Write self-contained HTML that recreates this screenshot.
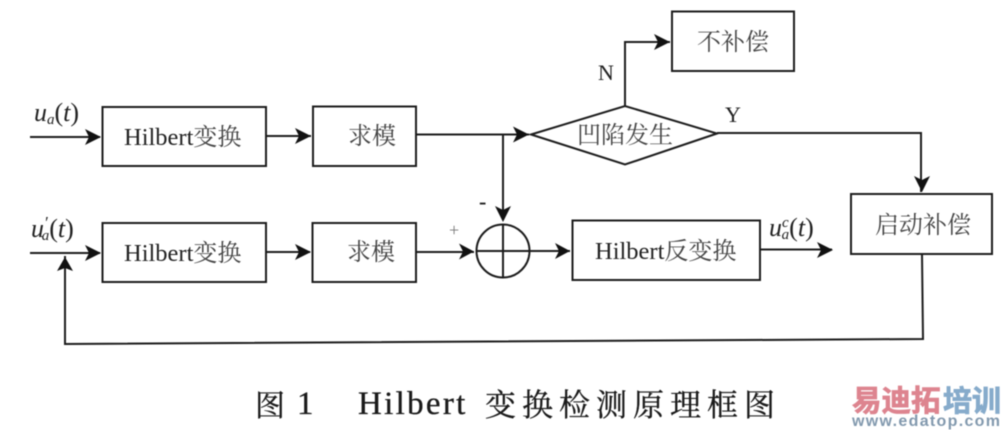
<!DOCTYPE html>
<html><head><meta charset="utf-8">
<style>
html,body{margin:0;padding:0;background:#fff;width:1006px;height:430px;overflow:hidden}
svg{display:block;filter:blur(.45px)}
text{font-family:"Liberation Serif","Noto Serif CJK SC",serif;fill:#222}
.cn{font-family:"Liberation Serif","Noto Serif CJK SC",serif;fill:#444;font-size:24px}
.i{font-style:italic}
.wm{font-family:"Liberation Sans","Noto Sans CJK SC",sans-serif;font-weight:bold;stroke-width:.8px}
.cap{fill:#1a1a1a;stroke:#1a1a1a;stroke-width:.3px}
</style></head><body>
<svg width="1006" height="430" viewBox="0 0 1006 430" xmlns="http://www.w3.org/2000/svg">
<g fill="none" stroke="#1c1c1c" stroke-width="2">
<rect x="102.500" y="107" width="163.500" height="59"/>
<rect x="313" y="106.500" width="103" height="59.500"/>
<rect x="102.500" y="223" width="163.500" height="59"/>
<rect x="312.500" y="223" width="103.500" height="59"/>
<rect x="672" y="11.500" width="122" height="59.500"/>
<rect x="572.500" y="220.500" width="187.500" height="59.500"/>
<rect x="851" y="194" width="141" height="60"/>
<polygon points="531,134.500 625,106 717,133.500 625,164.500"/>
<circle cx="503" cy="251" r="26.500"/>
<path d="M503 224.500V277.500M476.500 251H529.500"/>
<path d="M30 137H100M266 136H311M416 134.500H529M503 134.500V219"/>
<path d="M30 253H100M266 252H310M416 252H474M530 251H570M760 249.500H832"/>
<path d="M625 106V42H670M717 133H921V192"/>
<path d="M922 254L923 339L65 344V256"/>
</g>
<g fill="#111">
<path d="M101 137L85 129L89 137L85 145Z"/>
<path d="M101 253L85 245L89 253L85 261Z"/>
<path d="M311 136L295 128L299 136L295 144Z"/>
<path d="M311 252L295 244L299 252L295 260Z"/>
<path d="M529 134.500L513 126.500L517 134.500L513 142.500Z"/>
<path d="M474 251.500L459 243.500L463 251.500L459 259.500Z"/>
<path d="M570 251L555 243L559 251L555 259Z"/>
<path d="M670 42L654 34L658 42L654 50Z"/>
<path d="M833 250L817 242L821 250L817 258Z"/>
<path d="M503 222L495 206L503 210L511 206Z"/>
<path d="M922 192L914 176L922 180L930 176Z"/>
<path d="M65 257L57 271L65 268L73 271Z"/>
</g>
<text x="124" y="145" font-size="24.500">Hilbert<tspan class="cn">变换</tspan></text>
<text x="124" y="261" font-size="24.500">Hilbert<tspan class="cn">变换</tspan></text>
<text x="595" y="259" font-size="24.500">Hilbert<tspan class="cn">反变换</tspan></text>
<text x="348" y="144" class="cn">求模</text>
<text x="347" y="260" class="cn">求模</text>
<text x="697" y="50" class="cn">不补偿</text>
<text x="577" y="143" class="cn">凹陷发生</text>
<text x="875" y="233" class="cn">启动补偿</text>
<text x="598" y="80" font-size="22">N</text>
<text x="725" y="122" font-size="22">Y</text>
<text x="479" y="209" font-size="22" font-weight="bold">-</text>
<text x="449" y="236" font-size="18" style="fill:#777">+</text>
<text x="34" y="121" font-size="26" class="i">u<tspan font-size="15" dy="3">a</tspan><tspan dy="-3" font-style="normal">(</tspan>t<tspan font-style="normal">)</tspan></text>
<text x="31" y="237" font-size="26" class="i">u<tspan font-size="17" dy="-9">′</tspan><tspan font-size="15" dy="12" dx="-6">a</tspan><tspan dy="-3" font-style="normal">(</tspan>t<tspan font-style="normal">)</tspan></text>
<text x="769" y="236" font-size="26" class="i">u<tspan font-size="15" dy="-9">c</tspan><tspan font-size="15" dy="12" dx="-7">a</tspan><tspan dy="-3" font-style="normal">(</tspan>t<tspan font-style="normal">)</tspan></text>
<text x="255" y="416" font-size="30" class="cap">图</text>
<text x="297" y="414" font-size="33" class="cap">1</text>
<text x="358" y="414" font-size="33" letter-spacing="2.300" class="cap">Hilbert</text>
<text x="485" y="416" font-size="31" letter-spacing="6" class="cap">变换检测原理框图</text>
<text x="852" y="411" font-size="29.500" class="wm" style="fill:#dd848f;stroke:#dd848f">易迪拓</text>
<text x="943" y="411" font-size="29" class="wm" style="fill:#86abcb;stroke:#86abcb">培训</text>
<text x="852" y="426" font-size="16" textLength="148" lengthAdjust="spacing" class="wm" style="fill:#8299ae">www.edatop.com</text>
</svg>
</body></html>
